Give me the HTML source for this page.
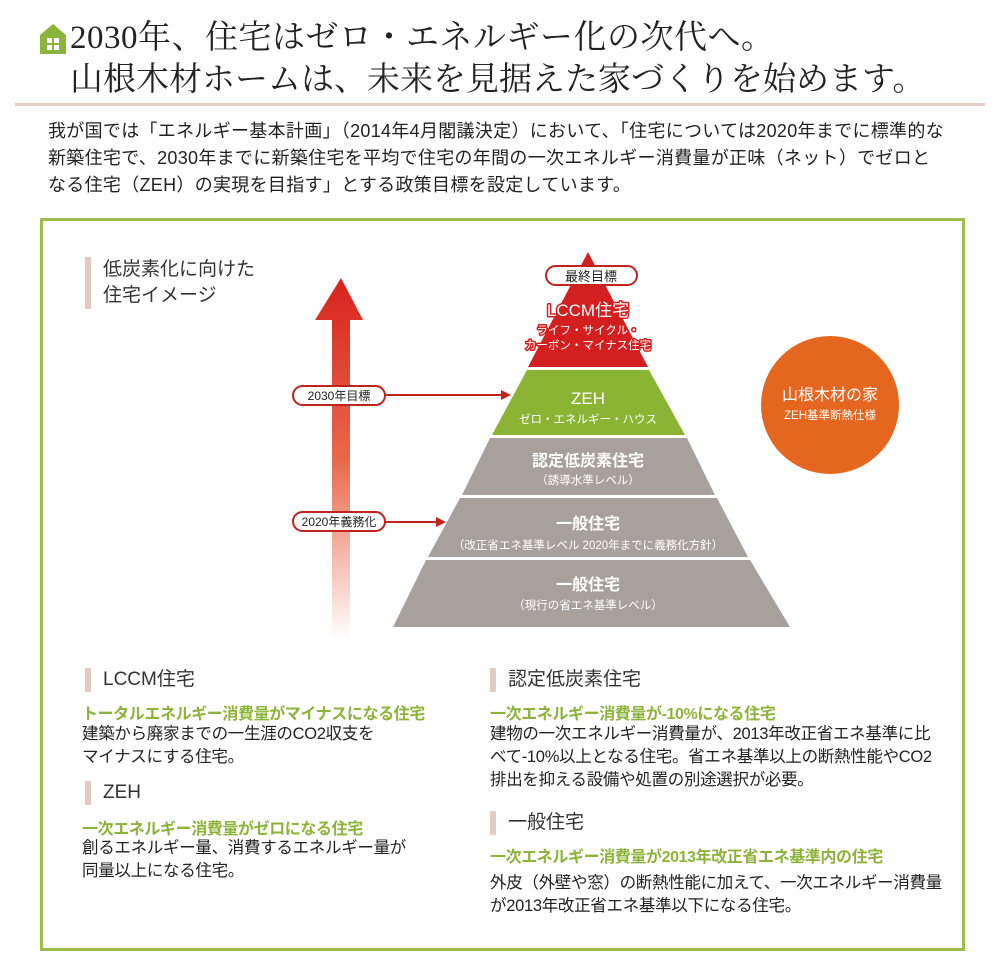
<!DOCTYPE html>
<html><head><meta charset="utf-8"><style>
*{margin:0;padding:0;box-sizing:border-box}
body{width:1000px;height:973px;background:#fff;position:relative;overflow:hidden;font-family:"Liberation Sans","Noto Sans CJK JP",sans-serif;color:#222}
.a{position:absolute;white-space:nowrap}
.t{font-family:"Liberation Serif","Noto Serif CJK JP",serif;font-size:33px;line-height:40px;color:#222}
.p{font-size:18px;line-height:27px;color:#222;letter-spacing:0.3px}
.h{font-size:19px;line-height:24px;color:#333;padding-left:12px;border-left:6px solid #e3cbc4}
.g{font-size:16px;font-weight:bold;color:#8db43a;letter-spacing:-0.4px}
.b{font-size:16.5px;line-height:23px;color:#222;letter-spacing:-0.3px}
</style></head><body>
<svg class="a" style="left:38px;top:22px" width="30" height="34" viewBox="0 0 30 34">
<polygon points="15,2 28,13 28,32 2,32 2,13" fill="#8cb43c"/>
<rect x="9" y="16" width="5" height="5" fill="#fff"/><rect x="16" y="16" width="5" height="5" fill="#fff"/>
<rect x="9" y="23" width="5" height="5" fill="#fff"/><rect x="16" y="23" width="5" height="5" fill="#fff"/>
</svg>
<div class="a t" style="left:70px;top:18px;letter-spacing:0.5px">2030年、住宅はゼロ・エネルギー化の次代へ。</div>
<div class="a t" style="left:70px;top:60px">山根木材ホームは、未来を見据えた家づくりを始めます。</div>
<div class="a" style="left:15px;top:103px;width:970px;height:3px;background:#e6cfc6"></div>
<div class="a p" style="left:48px;top:118px">我が国では「エネルギー基本計画」（2014年4月閣議決定）において、「住宅については2020年までに標準的な<br>新築住宅で、2030年までに新築住宅を平均で住宅の年間の一次エネルギー消費量が正味（ネット）でゼロと<br>なる住宅（ZEH）の実現を目指す」とする政策目標を設定しています。</div>
<div class="a" style="left:40px;top:218px;width:925px;height:733px;border:3px solid #9dbd4e"></div>
<div class="a h" style="left:85px;top:257px;line-height:26px;font-size:19px">低炭素化に向けた<br>住宅イメージ</div>
<svg class="a" style="left:0;top:0" width="1000" height="973">
<defs><linearGradient id="ar" x1="0" y1="0" x2="0" y2="1">
<stop offset="0" stop-color="#d8231e"/><stop offset="0.5" stop-color="#e8684a"/><stop offset="1" stop-color="#fff"/></linearGradient></defs>
<polygon points="341,278 363,320 350,320 350,640 332,640 332,320 315,320" fill="url(#ar)"/>
<polygon points="588,252 648,367 528,367" fill="#d31f1f"/>
<polygon points="527,370 649,370 685,435 492,435" fill="#8bb435"/>
<polygon points="490,438 687,438 715,495 462,495" fill="#a8a09d"/>
<polygon points="460,498 717,498 748,557 428,557" fill="#a8a09d"/>
<polygon points="426,560 750,560 790,627 393,627" fill="#a8a09d"/>
<rect x="546" y="266" width="91" height="19" rx="9.5" fill="#fff" stroke="#c0241c" stroke-width="2"/>
<text x="591" y="281" font-size="13" text-anchor="middle" fill="#222">最終目標</text>
<g fill="#fff" stroke="#d31f1f" stroke-width="3" paint-order="stroke" stroke-linejoin="round" text-anchor="middle">
<text x="588" y="316" font-size="17">LCCM住宅</text>
<text x="588" y="334" font-size="11.5">ライフ・サイクル・</text>
<text x="588" y="349" font-size="11.5">カーボン・マイナス住宅</text>
</g>
<text x="588" y="404" font-size="17" text-anchor="middle" fill="#fff">ZEH</text>
<text x="588" y="423" font-size="11.5" text-anchor="middle" fill="#fff">ゼロ・エネルギー・ハウス</text>
<text x="588" y="466" font-size="16" font-weight="bold" text-anchor="middle" fill="#fff">認定低炭素住宅</text>
<text x="588" y="484" font-size="11.5" text-anchor="middle" fill="#fff">（誘導水準レベル）</text>
<text x="588" y="529" font-size="16" font-weight="bold" text-anchor="middle" fill="#fff">一般住宅</text>
<text x="588" y="549" font-size="11.5" text-anchor="middle" fill="#fff">（改正省エネ基準レベル 2020年までに義務化方針）</text>
<text x="588" y="590" font-size="16" font-weight="bold" text-anchor="middle" fill="#fff">一般住宅</text>
<text x="588" y="609" font-size="11.5" text-anchor="middle" fill="#fff">（現行の省エネ基準レベル）</text>
<rect x="293" y="386" width="92" height="19" rx="9.5" fill="#fff" stroke="#c0241c" stroke-width="2"/>
<text x="339" y="400" font-size="12" text-anchor="middle" fill="#222">2030年目標</text>
<line x1="385" y1="395" x2="502" y2="395" stroke="#c0241c" stroke-width="2"/>
<polygon points="511,395 501,390 501,400" fill="#c0241c"/>
<rect x="293" y="512" width="92" height="19" rx="9.5" fill="#fff" stroke="#c0241c" stroke-width="2"/>
<text x="339" y="526" font-size="12" text-anchor="middle" fill="#222">2020年義務化</text>
<line x1="385" y1="522" x2="437" y2="522" stroke="#c0241c" stroke-width="2"/>
<polygon points="446,522 436,517 436,527" fill="#c0241c"/>
<circle cx="830" cy="405" r="69" fill="#e5661f"/>
<text x="830" y="400" font-size="16" text-anchor="middle" fill="#fff">山根木材の家</text>
<text x="830" y="419" font-size="11.5" text-anchor="middle" fill="#fff">ZEH基準断熱仕様</text>
</svg>
<div class="a h" style="left:85px;top:668px">LCCM住宅</div>
<div class="a g" style="left:82px;top:700px">トータルエネルギー消費量がマイナスになる住宅</div>
<div class="a b" style="left:82px;top:723px">建築から廃家までの一生涯のCO2収支を<br>マイナスにする住宅。</div>
<div class="a h" style="left:85px;top:781px">ZEH</div>
<div class="a g" style="left:82px;top:815px">一次エネルギー消費量がゼロになる住宅</div>
<div class="a b" style="left:82px;top:837px">創るエネルギー量、消費するエネルギー量が<br>同量以上になる住宅。</div>
<div class="a h" style="left:490px;top:668px">認定低炭素住宅</div>
<div class="a g" style="left:490px;top:700px">一次エネルギー消費量が-10%になる住宅</div>
<div class="a b" style="left:490px;top:723px">建物の一次エネルギー消費量が、2013年改正省エネ基準に比<br>べて-10%以上となる住宅。省エネ基準以上の断熱性能やCO2<br>排出を抑える設備や処置の別途選択が必要。</div>
<div class="a h" style="left:490px;top:811px">一般住宅</div>
<div class="a g" style="left:490px;top:843px">一次エネルギー消費量が2013年改正省エネ基準内の住宅</div>
<div class="a b" style="left:490px;top:872px">外皮（外壁や窓）の断熱性能に加えて、一次エネルギー消費量<br>が2013年改正省エネ基準以下になる住宅。</div>
</body></html>
